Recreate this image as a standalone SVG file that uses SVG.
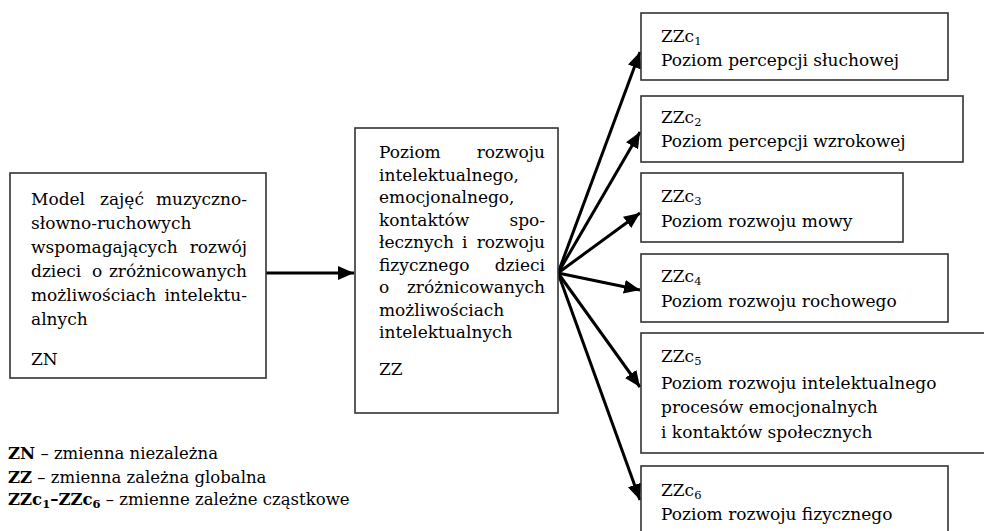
<svg xmlns="http://www.w3.org/2000/svg" width="984" height="531" viewBox="0 0 984 531">
<style>
.box{fill:#fff;stroke:#333;stroke-width:1.6}
.t text{font-size:17px;fill:#000}
.e{text-anchor:end}
.t text.leg{font-size:16.5px}
.b{font-weight:bold}
.s{font-size:11.5px}
.conn{stroke:#000;stroke-width:3;fill:none}
</style>
<defs>
<marker id="ah" markerUnits="userSpaceOnUse" markerWidth="17" markerHeight="15" refX="16" refY="7" orient="auto">
<path d="M0,0 L16,7 L0,14 z" fill="#000"/>
</marker>
</defs>
<g id="connectors">
<line class="conn" x1="266" y1="273" x2="354" y2="273" marker-end="url(#ah)"/>
<line class="conn" x1="558" y1="273" x2="640" y2="52" marker-end="url(#ah)"/>
<line class="conn" x1="558" y1="273" x2="640" y2="132" marker-end="url(#ah)"/>
<line class="conn" x1="558" y1="273" x2="640" y2="213" marker-end="url(#ah)"/>
<line class="conn" x1="558" y1="273" x2="640" y2="290" marker-end="url(#ah)"/>
<line class="conn" x1="558" y1="273" x2="640" y2="387" marker-end="url(#ah)"/>
<line class="conn" x1="558" y1="273" x2="640" y2="500" marker-end="url(#ah)"/>
</g>
<g class="t" font-family="'DejaVu Serif', 'Liberation Serif', serif">
<g id="ZN">
<rect class="box" x="10" y="173" width="256" height="205"/>
<text x="31" y="205">Model</text><text x="100" y="205">zajęć</text><text class="e" x="247" y="205">muzyczno-</text>
<text x="31" y="229">słowno-ruchowych</text>
<text x="31" y="253">wspomagających</text><text class="e" x="247" y="253">rozwój</text>
<text x="31" y="277">dzieci</text><text x="92" y="277">o</text><text class="e" x="247" y="277">zróżnicowanych</text>
<text x="31" y="301">możliwościach</text><text class="e" x="247" y="301">intelektu-</text>
<text x="31" y="325">alnych</text>
<text x="31" y="365">ZN</text>
</g>
<g id="ZZ">
<rect class="box" x="355" y="128" width="203" height="285"/>
<text x="379" y="158">Poziom</text><text class="e" x="545" y="158">rozwoju</text>
<text x="379" y="181">intelektualnego,</text>
<text x="379" y="203">emocjonalnego,</text>
<text x="379" y="226">kontaktów</text><text class="e" x="545" y="226">spo-</text>
<text x="379" y="248">łecznych</text><text x="462" y="248">i</text><text class="e" x="545" y="248">rozwoju</text>
<text x="379" y="271">fizycznego</text><text class="e" x="545" y="271">dzieci</text>
<text x="379" y="293">o</text><text class="e" x="545" y="293">zróżnicowanych</text>
<text x="379" y="316">możliwościach</text>
<text x="379" y="338">intelektualnych</text>
<text x="379" y="375">ZZ</text>
</g>
<g id="ZZc1">
<rect class="box" x="641" y="13" width="307" height="67"/>
<text x="661" y="42">ZZc<tspan class="s" dy="3">1</tspan></text>
<text x="661" y="66">Poziom percepcji słuchowej</text>
</g>
<g id="ZZc2">
<rect class="box" x="641" y="96" width="322" height="66"/>
<text x="661" y="123">ZZc<tspan class="s" dy="3">2</tspan></text>
<text x="661" y="147">Poziom percepcji wzrokowej</text>
</g>
<g id="ZZc3">
<rect class="box" x="641" y="173" width="262" height="69"/>
<text x="661" y="202">ZZc<tspan class="s" dy="3">3</tspan></text>
<text x="661" y="227">Poziom rozwoju mowy</text>
</g>
<g id="ZZc4">
<rect class="box" x="641" y="254" width="307" height="68"/>
<text x="661" y="282">ZZc<tspan class="s" dy="3">4</tspan></text>
<text x="661" y="307">Poziom rozwoju rochowego</text>
</g>
<g id="ZZc5">
<rect class="box" x="641" y="333" width="360" height="120"/>
<text x="661" y="362">ZZc<tspan class="s" dy="3">5</tspan></text>
<text x="661" y="389">Poziom rozwoju intelektualnego</text>
<text x="661" y="413">procesów emocjonalnych</text>
<text x="661" y="438">i kontaktów społecznych</text>
</g>
<g id="ZZc6">
<rect class="box" x="641" y="466" width="307" height="80"/>
<text x="661" y="496">ZZc<tspan class="s" dy="3">6</tspan></text>
<text x="661" y="520">Poziom rozwoju fizycznego</text>
</g>
<g id="legend">
<text class="leg" x="8" y="459"><tspan class="b">ZN</tspan> – zmienna niezależna</text>
<text class="leg" x="8" y="483"><tspan class="b">ZZ</tspan> – zmienna zależna globalna</text>
<text class="leg" x="8" y="505"><tspan class="b">ZZc</tspan><tspan class="b s" dy="3">1</tspan><tspan class="b" dy="-3">–ZZc</tspan><tspan class="b s" dy="3">6</tspan><tspan dy="-3"> – zmienne zależne cząstkowe</tspan></text>
</g>
</g>
</svg>
